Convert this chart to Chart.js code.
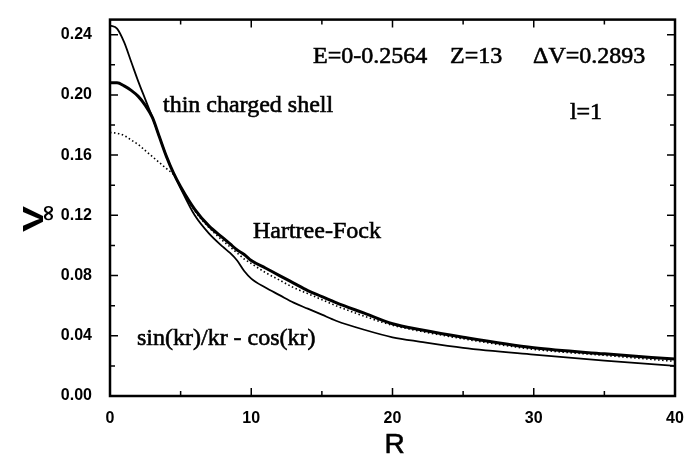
<!DOCTYPE html>
<html>
<head>
<meta charset="utf-8">
<script src="https://cdn.jsdelivr.net/npm/chart.js@4/dist/chart.umd.min.js"></script>
<style>
  html, body { margin: 0; padding: 0; background: #fff; }
  canvas { display: block; }
</style>
</head>
<body>
<canvas id="chart" width="692" height="458"></canvas>
<script>
// radius grid shared by the three curves
const rValues = [0, 0.5, 1, 1.5, 2, 2.5, 3, 3.5, 4, 4.5, 5, 6, 7, 8, 8.5, 9, 9.5, 10,
                 11, 12, 13, 14, 15, 16, 18, 20, 22, 25, 30, 35, 40];

// thin solid line, steep start
const sinCos = [0.246, 0.244, 0.235, 0.222, 0.209, 0.197, 0.185, 0.172, 0.159, 0.148, 0.138,
                0.120, 0.108, 0.099, 0.095, 0.090, 0.083, 0.078, 0.072, 0.067, 0.062, 0.058,
                0.054, 0.050, 0.044, 0.039, 0.036, 0.032, 0.0275, 0.0235, 0.020];

// thick solid line
const hartreeFock = [0.208, 0.208, 0.206, 0.203, 0.199, 0.193, 0.185, 0.172, 0.159, 0.148, 0.139,
                     0.124, 0.113, 0.105, 0.101, 0.097, 0.094, 0.090, 0.085, 0.080, 0.075, 0.070,
                     0.066, 0.062, 0.055, 0.048, 0.044, 0.039, 0.032, 0.028, 0.0245];

// dotted line
const thinShell = [0.175, 0.1745, 0.173, 0.170, 0.167, 0.163, 0.159, 0.155, 0.151, 0.147, 0.139,
                   0.123, 0.112, 0.103, 0.099, 0.095, 0.091, 0.088, 0.082, 0.077, 0.072, 0.068,
                   0.064, 0.060, 0.053, 0.047, 0.043, 0.038, 0.031, 0.027, 0.023];

const xTicks = [0, 10, 20, 30, 40];
const xMinor = [5, 15, 25, 35];
const yTicks = [0, 0.04, 0.08, 0.12, 0.16, 0.20, 0.24];
const yMinor = [0.02, 0.06, 0.10, 0.14, 0.18, 0.22];

// text placed in data coordinates (left edge, baseline)
const notes = [
  {text: 'E=0-0.2564', r: 14.37, v: 0.221},
  {text: 'Z=13', r: 24.07, v: 0.221},
  {text: '\u0394V=0.2893', r: 29.95, v: 0.221},
  {text: 'l=1', r: 32.56, v: 0.1843},
  {text: 'thin charged shell', r: 3.75, v: 0.1888},
  {text: 'Hartree-Fock', r: 10.12, v: 0.105},
  {text: 'sin(kr)/kr - cos(kr)', r: 1.91, v: 0.0341}
];

const toPoints = ys => rValues.map((r, i) => ({x: r, y: ys[i]}));

const frameAndText = {
  id: 'frameAndText',
  afterDatasetsDraw(chart) {
    const {ctx, chartArea: a, scales: {x, y}} = chart;
    ctx.save();
    ctx.strokeStyle = '#000';
    ctx.fillStyle = '#000';

    // inward tick marks on all four sides
    ctx.lineWidth = 1.5;
    ctx.beginPath();
    const xt = (vals, len) => vals.forEach(v => {
      const px = x.getPixelForValue(v);
      ctx.moveTo(px, a.bottom); ctx.lineTo(px, a.bottom - len);
      ctx.moveTo(px, a.top); ctx.lineTo(px, a.top + len);
    });
    const yt = (vals, len) => vals.forEach(v => {
      const py = y.getPixelForValue(v);
      ctx.moveTo(a.left, py); ctx.lineTo(a.left + len, py);
      ctx.moveTo(a.right, py); ctx.lineTo(a.right - len, py);
    });
    xt(xTicks, 8); xt(xMinor, 5);
    yt(yTicks, 8); yt(yMinor, 5);
    ctx.stroke();

    ctx.lineWidth = 2.5;
    ctx.strokeRect(a.left, a.top, a.right - a.left, a.bottom - a.top);

    // serif notes, lightly stroked to give the heavier print weight
    ctx.font = '24px "Liberation Serif", "Times New Roman", serif';
    ctx.textBaseline = 'alphabetic';
    ctx.textAlign = 'left';
    ctx.lineWidth = 0.6;
    notes.forEach(n => {
      const px = x.getPixelForValue(n.r), py = y.getPixelForValue(n.v);
      ctx.fillText(n.text, px, py);
      ctx.strokeText(n.text, px, py);
    });

    // x axis title
    ctx.font = '28px "Liberation Sans", Arial, sans-serif';
    ctx.textAlign = 'center';
    ctx.fillText('R', (a.left + a.right) / 2 + 2, 453);
    ctx.strokeText('R', (a.left + a.right) / 2 + 2, 453);

    // y axis title: V with infinity subscript, rotated
    ctx.translate(43, 232);
    ctx.rotate(-Math.PI / 2);
    ctx.save();
    ctx.scale(1.3, 1);
    ctx.textAlign = 'left';
    ctx.font = 'bold 30px "Liberation Sans", Arial, sans-serif';
    ctx.fillText('V', 0, 0);
    ctx.restore();
    ctx.font = 'bold 22px "DejaVu Sans", sans-serif';
    ctx.textBaseline = 'middle';
    ctx.fillText('\u221E', 19, 6);
    ctx.restore();
  }
};

new Chart(document.getElementById('chart'), {
  type: 'line',
  data: {
    datasets: [
      {label: 'Hartree-Fock', data: toPoints(hartreeFock), borderColor: '#000', borderWidth: 3},
      {label: 'thin charged shell', data: toPoints(thinShell), borderColor: '#000', borderWidth: 1.6, borderDash: [1.5, 2.5]},
      {label: 'sin(kr)/kr - cos(kr)', data: toPoints(sinCos), borderColor: '#000', borderWidth: 1.8}
    ]
  },
  options: {
    responsive: false,
    animation: false,
    devicePixelRatio: 1,
    layout: {padding: {top: 8, right: 17, left: 0, bottom: 0}},
    elements: {
      point: {radius: 0},
      line: {cubicInterpolationMode: 'monotone', fill: false}
    },
    plugins: {legend: {display: false}, tooltip: {enabled: false}},
    scales: {
      x: {
        type: 'linear',
        min: 0,
        max: 40,
        grid: {display: false},
        border: {display: false},
        afterFit: s => { s.height = 62; },
        afterBuildTicks: s => { s.ticks = xTicks.map(v => ({value: v})); },
        ticks: {
          color: '#000',
          padding: 5,
          maxRotation: 0,
          font: {family: '"Liberation Sans", Arial, sans-serif', size: 16, weight: 'bold'},
          callback: v => String(v)
        }
      },
      y: {
        type: 'linear',
        min: 0,
        max: 0.25,
        grid: {display: false},
        border: {display: false},
        afterFit: s => { s.width = 110; },
        afterBuildTicks: s => { s.ticks = yTicks.map(v => ({value: v})); },
        ticks: {
          color: '#000',
          padding: 10,
          font: {family: '"Liberation Sans", Arial, sans-serif', size: 16, weight: 'bold'},
          callback: v => v.toFixed(2)
        }
      }
    }
  },
  plugins: [frameAndText]
});
</script>
</body>
</html>
